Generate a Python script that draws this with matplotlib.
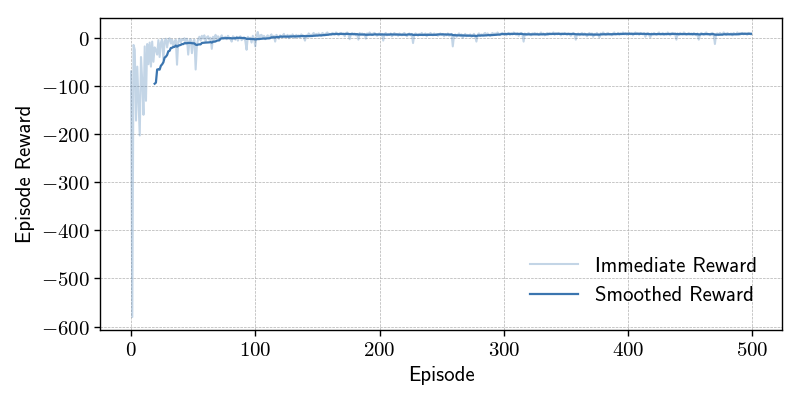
import numpy as np
import pandas as pd
import matplotlib
matplotlib.use("Agg")
import matplotlib.pyplot as plt
from matplotlib.ticker import FuncFormatter

# ---- data ----
reward_000_049 = [-70, -580, -15, -25, -172, -60, -130, -203, -40, -90,
                  -160, -18, -131, -13, -55, -10, -60, -8, -50, -20,
                  -25, -35, -5, -40, -10, -3, -45, -8, -2, -20,
                  -5, -1, -12, -4, -20, -7, -4, -56, -8, -2,
                  -10, -3, -5, -1, -12, -2, -35, -6, -3, -32]
reward_050_099 = [-8, -4, -66, -16, -3, 2, -6, 4, -2, 5,
                  -8, 1, 3, -4, 0, -23, 2, -5, 6, -1,
                  3, -3, 1, 5, -2, 0, 2, -3, 4, 0,
                  -2, -8, 3, 1, -4, 2, -6, 0, 3, -5,
                  -2, 1, -7, -25, 2, -3, 0, -10, 4, -1]
reward_100_149 = [-18, 3, 12, -2, 5, 6, 1, 4, -3, 2,
                  5, 0, 3, 7, -1, 4, -8, 6, 3, -2,
                  5, 1, 4, 8, 2, 3, 6, -1, 5, 2,
                  7, 4, 0, 6, 3, 5, 1, 7, 4, 2,
                  -6, 5, 3, 9, 6, 4, 7, 10, 5, 8]
reward_150_199 = [6, 9, 7, 4, 10, 8, 5, 9, 11, 7, 8, 6, 10, 9, 7, 11, 8, 5, 9, 10, 7, 8, 3, 9, 11,
                  6, -3, 8, 10, 7, 9, 5, 8, -4, 10, 7, 9, 6, 8, -2, 9, 7, 11, 8, 6, 9, 10, 7, 4, 8]
reward_200_249 = [9, 6, 8, -6, 7, 10, 5, 8, 6, 9, 3, 7, 10, 6, 8, 4, 9, 7, 5, 8, 10, 6, 3, 7, 9,
                  5, 8, -11, 6, 9, 7, 4, 8, 6, 10, 5, 7, 9, 3, 8, 6, 10, 7, 5, 9, 6, 8, 4, 7, 9]
reward_250_299 = [6, 8, 3, 7, 5, 9, 4, 6, 8, -18, 5, 7, 2, 6, 9, 4, 7, 0, 5, 8, 3, 6, 4, 7, 2,
                  5, 8, 3, -8, 6, 9, 4, 7, 5, 8, 10, 6, 9, 7, 4, 8, 10, 6, 9, 7, 11, 8, 6, 9, 10]
reward_300_349 = [7, 9, 5, 8, 10, 6, 9, 7, 11, 8, 6, 9, 4, 8, 10, 7, -8, 9, 6, 8, 10, 7, 5, 9, 8,
                  10, 7, 9, 6, 8, 11, 7, 9, 5, 8, 10, 6, 9, 7, 8, 11, 6, 9, 7, 10, 8, 5, 9, 7, 10]
reward_350_399 = [8, 6, 9, 7, 4, 8, 10, 6, -4, 7, 9, 5, 8, 10, 6, 9, 7, 3, 8, 10, 6, 9, 2, 8, 7,
                  10, 6, 1, 9, 7, 11, 8, 6, 9, 10, 7, 8, 5, 9, 11, 7, 8, 10, 6, 9, 8, 11, 7, 9, 6]
reward_400_449 = [8, 10, 7, 9, 5, 8, 11, 7, 9, 6, 10, 8, 7, 9, 2, 8, 10, 6, 1, 9, 7, 10, 8, 6, 9,
                  11, 7, 8, 10, 6, 9, 7, 11, 8, 5, 9, 10, 7, 8, -4, 9, 6, 10, 8, 7, 11, 9, 6, 8, 10]
reward_450_499 = [7, 9, 6, 10, 8, 5, 9, -4, 7, 10, 8, 6, 9, 11, 7, 8, 5, 9, 10, 7, -13, 8, 9, 6, 10,
                  8, 7, 11, 9, 6, 10, 8, 7, 9, 5, 10, 8, 7, 11, 9, 6, 8, 10, 7, 9, 8, 6, 10, 9, 7]

smoothing_window = 20
x_ticks = [0, 100, 200, 300, 400, 500]
y_ticks = [-600, -500, -400, -300, -200, -100, 0]
labels = ["Immediate Reward", "Smoothed Reward"]

# ---- build series ----
rewards = np.array(reward_000_049 + reward_050_099 + reward_100_149 + reward_150_199 +
                   reward_200_249 + reward_250_299 + reward_300_349 + reward_350_399 +
                   reward_400_449 + reward_450_499, dtype=float)
episodes = np.arange(len(rewards))
smoothed = pd.Series(rewards).rolling(smoothing_window).mean().to_numpy()

# ---- style ----
plt.rcParams["mathtext.fontset"] = "cm"
sans = "cmss10"
base_color = "#3b75af"
fs = 15

fig = plt.figure(figsize=(8, 4), dpi=100)
ax = fig.add_axes([0.125, 0.175, 0.8525, 0.78])

ax.plot(episodes, rewards, color=base_color, alpha=0.3, lw=1.5, label=labels[0])
ax.plot(episodes, smoothed, color=base_color, lw=1.6, label=labels[1])

ax.set_xlim(-25, 524)
ax.set_ylim(-607, 41)
ax.set_xticks(x_ticks)
ax.set_yticks(y_ticks)
fmt = FuncFormatter(lambda v, p: r"$%d$" % int(round(v)))
ax.xaxis.set_major_formatter(fmt)
ax.yaxis.set_major_formatter(fmt)
ax.tick_params(labelsize=fs, length=4, width=1)

ax.grid(True, linestyle="--", linewidth=0.5, color="#b0b0b0")
ax.set_axisbelow(True)

ax.set_xlabel("Episode", fontsize=fs, fontfamily=sans)
ax.set_ylabel("Episode Reward", fontsize=fs, fontfamily=sans)

leg = ax.legend(loc="lower right", frameon=False, prop={"family": sans, "size": fs},
                handlelength=2.3, borderaxespad=0.8)

for s in ax.spines.values():
    s.set_linewidth(1.0)

fig.savefig("out.png", dpi=100)
